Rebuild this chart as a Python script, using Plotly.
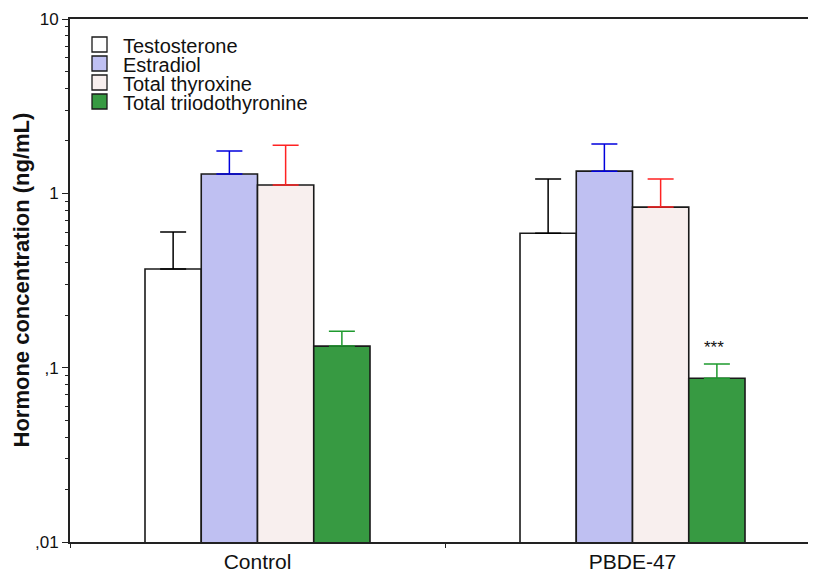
import math
import plotly.graph_objects as go

groups = ["Control", "PBDE-47"]
series_names = ["Testosterone", "Estradiol", "Total thyroxine", "Total triiodothyronine"]
testosterone = [0.368, 0.59]
testosterone_err_top = [0.60, 1.21]
estradiol = [1.29, 1.34]
estradiol_err_top = [1.75, 1.92]
thyroxine = [1.116, 0.834]
thyroxine_err_top = [1.89, 1.21]
triiodothyronine = [0.133, 0.087]
triiodothyronine_err_top = [0.162, 0.105]

y_tickvals = [0.01, 0.1, 1, 10]
y_ticktext = [",01", ",1", "1", "10"]
significance_label = "***"
significance_y = 0.13

values = [testosterone, estradiol, thyroxine, triiodothyronine]
err_tops = [testosterone_err_top, estradiol_err_top, thyroxine_err_top, triiodothyronine_err_top]
fills = ["#FFFFFF", "#BFC0F2", "#F8EFEE", "#379A42"]
err_colors = ["#000000", "#0000DD", "#FF2222", "#1E9A2E"]

fig = go.Figure()
for name, vals, tops, fc, ec in zip(series_names, values, err_tops, fills, err_colors):
    fig.add_trace(go.Bar(
        x=groups, y=vals, name=name, showlegend=False,
        marker=dict(color=fc, line=dict(color="#1a1a1a", width=1.6)),
        error_y=dict(type="data", symmetric=False,
                     array=[t - v for t, v in zip(tops, vals)],
                     arrayminus=[0, 0], color=ec, thickness=1.5, width=13),
    ))

# custom legend (squares + labels) anchored to the plot's top-left corner
for i, (name, fc) in enumerate(zip(series_names, fills)):
    top = 18 + 19 * i
    fig.add_shape(type="rect", xref="paper", yref="paper",
                  xsizemode="pixel", ysizemode="pixel", xanchor=0, yanchor=1,
                  x0=22, x1=37, y0=-top, y1=-(top + 15),
                  fillcolor=fc, line=dict(color="#1a1a1a", width=1.3))
    fig.add_annotation(xref="paper", yref="paper", x=0, y=1, xanchor="left", yanchor="middle",
                       xshift=51, yshift=-(top + 8.5), text=name, showarrow=False,
                       font=dict(size=20, color="#111"))

minor_vals = [m * 10 ** k for k in (-2, -1, 0) for m in range(2, 10)]

fig.add_annotation(x="PBDE-47", y=math.log10(significance_y), yref="y", xref="x",
                   text=significance_label, showarrow=False, xshift=81,
                   font=dict(size=17, color="#111"))

fig.add_annotation(xref="paper", yref="paper", x=0, y=0.5, xanchor="center", yanchor="middle",
                   xshift=-49, textangle=-90,
                   text="<b>Hormone concentration (ng/mL)</b>", showarrow=False,
                   font=dict(size=22, color="#111"))

fig.update_layout(
    width=808, height=564,
    margin=dict(l=62, r=0, t=11, b=30),
    paper_bgcolor="white", plot_bgcolor="white",
    barmode="group", bargap=0.4, bargroupgap=0,
    font=dict(family="Liberation Sans, Arial, sans-serif", color="#111"),
    showlegend=False,
    xaxis=dict(type="category", range=[-0.5, 1.4893], showline=True, linecolor="#222",
               linewidth=2, mirror=True, ticks="outside", tickson="boundaries",
               ticklen=4, tickcolor="#222", showgrid=False, automargin=False,
               tickfont=dict(size=21, color="#111")),
    yaxis=dict(type="log", range=[-2, 1], showline=True, linecolor="#222", linewidth=2,
               tickvals=y_tickvals, ticktext=y_ticktext, ticks="outside", ticklen=6,
               tickcolor="#222", showgrid=False, zeroline=False, automargin=False,
               tickfont=dict(size=17, color="#111"),
               minor=dict(tickvals=minor_vals, ticks="outside", ticklen=3, tickcolor="#222", showgrid=False)),
)

fig.write_html("out.html", post_script="document.documentElement.style.overflow='hidden';")
